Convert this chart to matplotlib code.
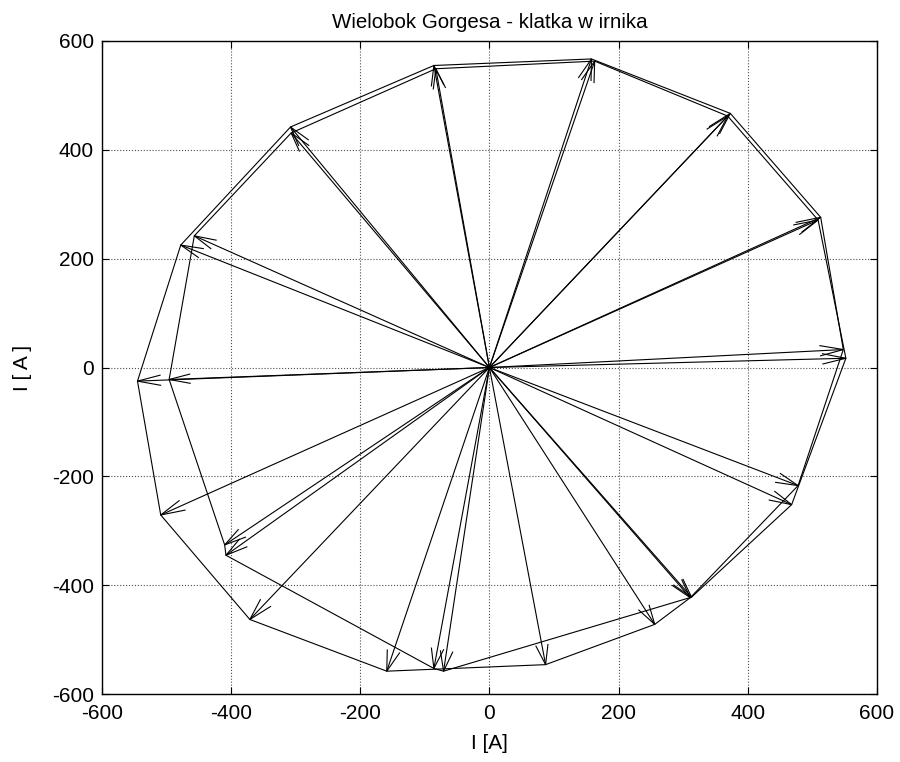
import matplotlib.pyplot as plt
import numpy as np

# Gorges polygon of the rotor cage: vertices of the two current loci [A]
ring_a_x = [-86, 158, 373, 513, 548, 478, 311, 256, 87, -159, -371, -509, -545, -478, -308]
ring_a_y = [555, 567, 467, 276, 33, -217, -423, -472, -546, -558, -463, -271, -25, 225, 442]
ring_b_x = [-83, 163, 369, 509, 552, 468, 313, -71, -86, -408, -410, -496, -457, -307]
ring_b_y = [549, 563, 462, 271, 17, -252, -422, -558, -553, -345, -326, -22, 242, 431]

ticks = [-600, -400, -200, 0, 200, 400, 600]


def draw_phasors(ax, xs, ys, lw=0.8):
    # compass-style arrows from the origin to each vertex
    for x, y in zip(xs, ys):
        ax.plot([0, x], [0, y], color='k', lw=lw, solid_capstyle='butt')
        hx, hy = 0.935 * x, 0.935 * y
        nx, ny = -0.017 * y, 0.017 * x
        ax.plot([hx + nx, x, hx - nx], [hy + ny, y, hy - ny], color='k', lw=lw)


def draw_polygon(ax, xs, ys, lw=0.8):
    ax.plot(list(xs) + [xs[0]], list(ys) + [ys[0]], color='k', lw=lw)


plt.rcParams['font.family'] = ['Liberation Sans', 'DejaVu Sans']
plt.rcParams['font.size'] = 15
plt.rcParams['axes.unicode_minus'] = False

fig = plt.figure(figsize=(9, 7.62), dpi=100)
ax = fig.add_axes([0.1133, 0.0892, 0.861, 0.857])

draw_polygon(ax, ring_a_x, ring_a_y)
draw_polygon(ax, ring_b_x, ring_b_y)
draw_phasors(ax, ring_a_x, ring_a_y)
draw_phasors(ax, ring_b_x, ring_b_y)

ax.set_xlim(-600, 600)
ax.set_ylim(-600, 600)
ax.set_xticks(ticks)
ax.set_yticks(ticks)
ax.grid(True, linestyle=':', color='0.3', lw=0.8)
ax.set_axisbelow(True)
ax.tick_params(direction='in', top=True, right=True, length=5, width=0.8, labelsize=15)
ax.tick_params(axis='x', pad=7)
ax.tick_params(axis='y', pad=6)
for sp in ax.spines.values():
    sp.set_linewidth(1.0)

ax.set_title('Wielobok Gorgesa - klatka w irnika', fontsize=14.8, pad=9.5)
ax.set_xlabel('I [A]', fontsize=15, labelpad=8)
ax.set_ylabel('I [ A ]', fontsize=15, labelpad=14)

fig.savefig('out.png', dpi=100)
